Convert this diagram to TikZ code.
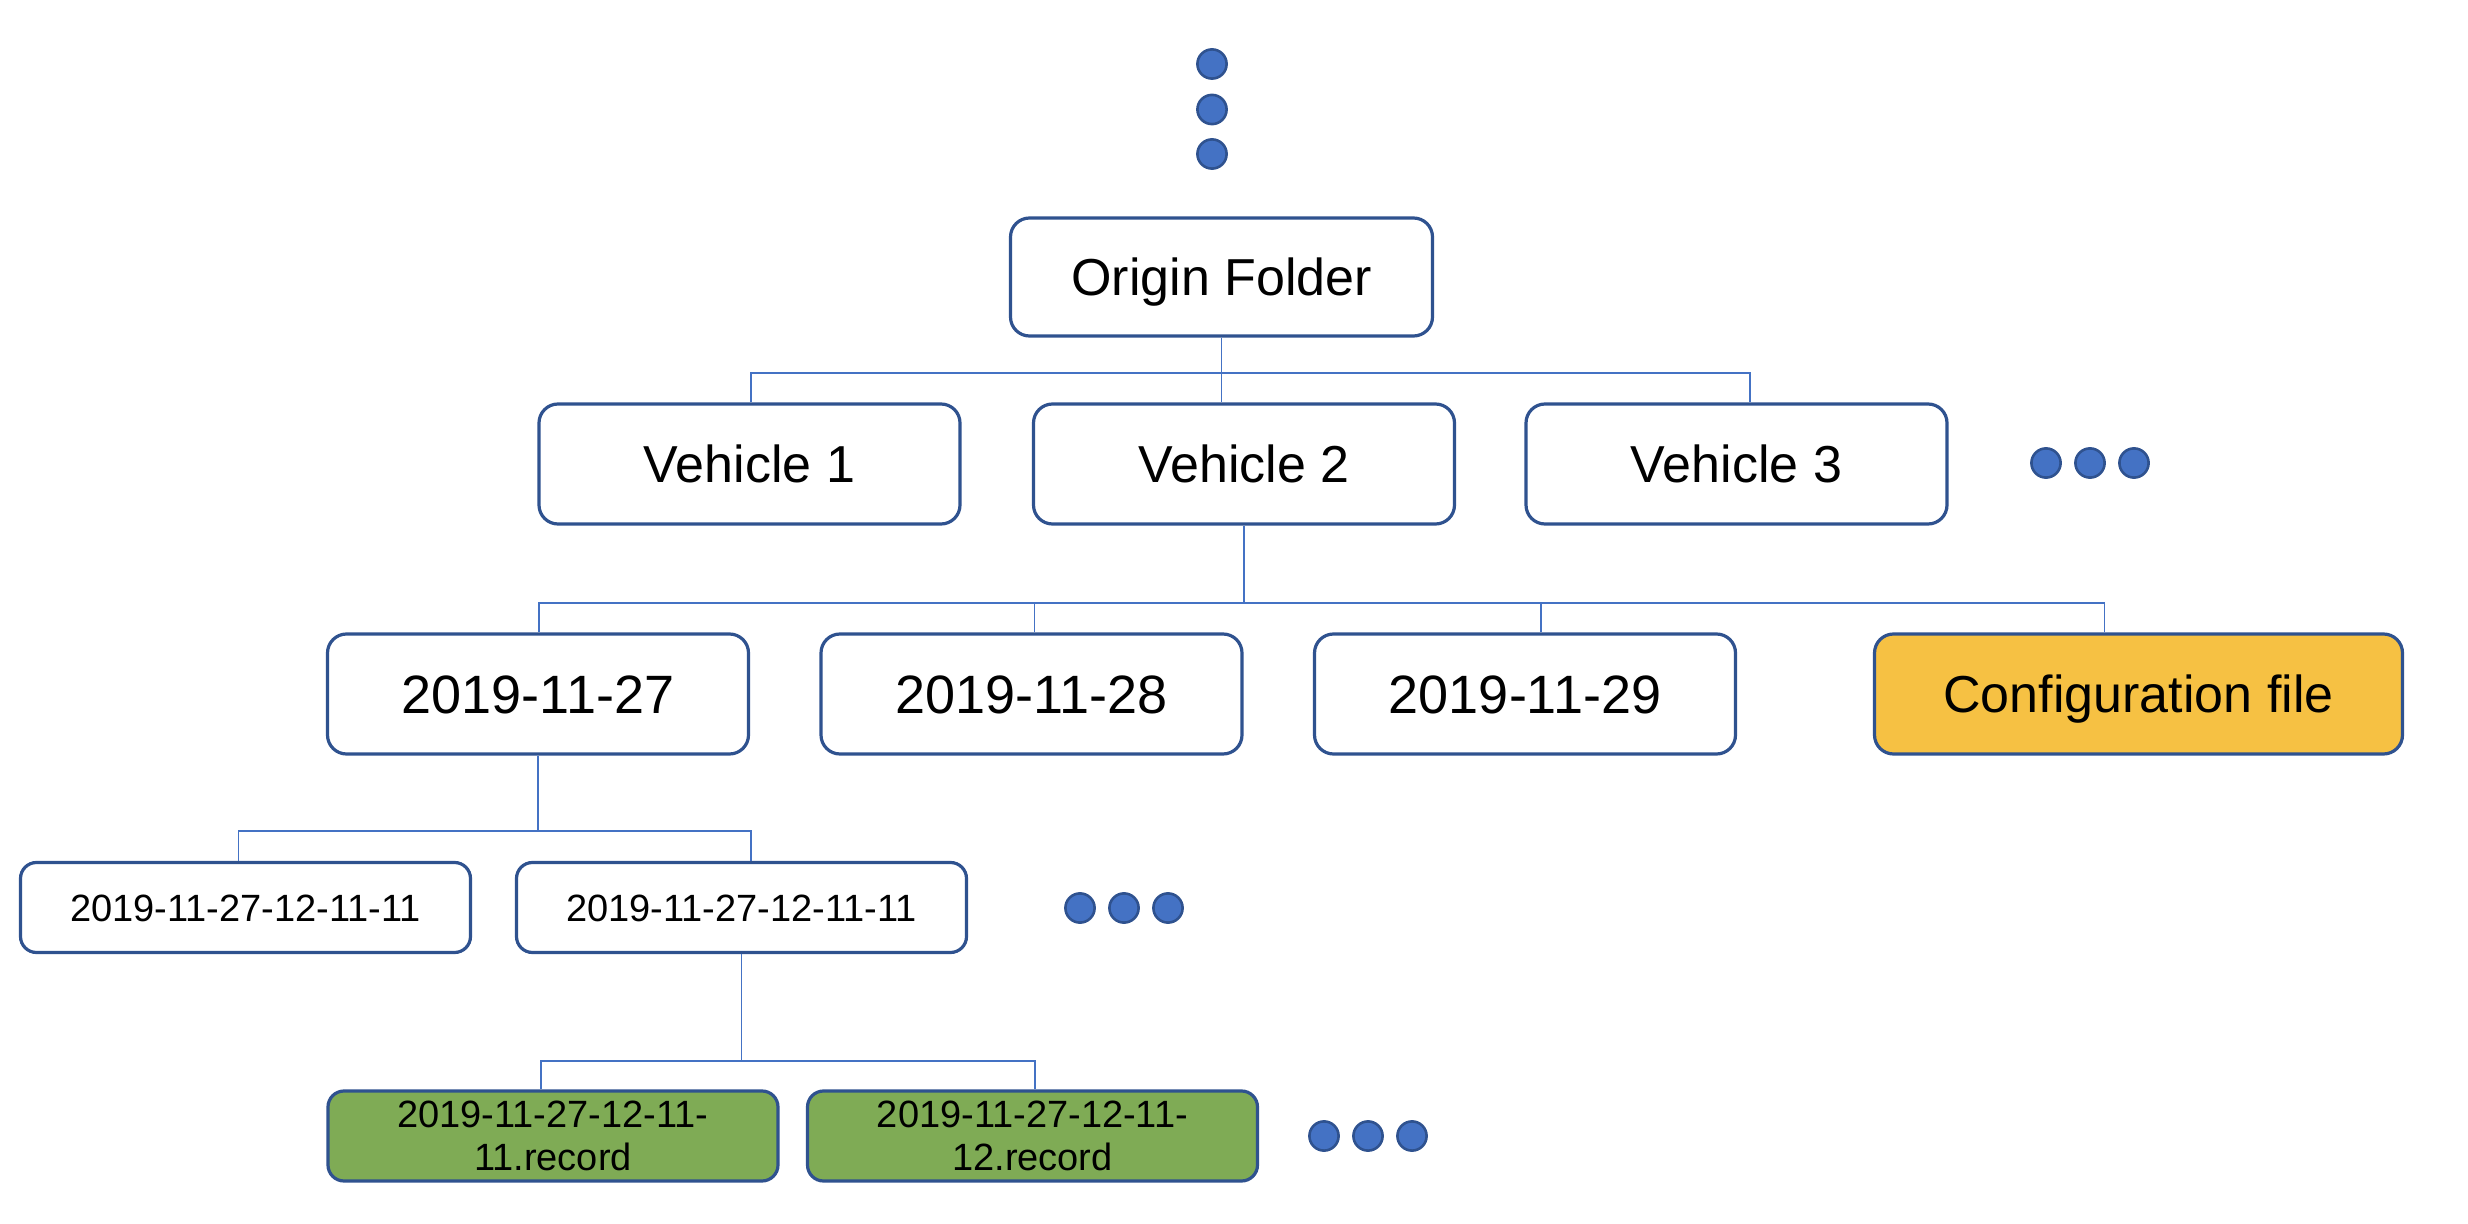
\documentclass[tikz,border=0pt]{standalone}
\usepackage{fontspec}
\setmainfont{Liberation Sans}
\definecolor{bordc}{HTML}{2F528F}
\definecolor{connc}{HTML}{4472C4}
\definecolor{dotc}{HTML}{4472C4}
\definecolor{cfgc}{HTML}{F6C143}
\definecolor{recc}{HTML}{7FAB55}
\begin{document}
\begin{tikzpicture}[x=0.5pt,y=-0.5pt,
  bigbox/.style={draw=bordc, line width=1.6pt, rounded corners=9.5pt, fill=white,
    minimum width=210.5pt, minimum height=60pt, inner sep=0pt,
    text height=18.6pt, text depth=0pt,
    font=\fontsize{26}{30}\selectfont},
  datebox/.style={bigbox, text height=19.3pt, font=\fontsize{27}{31}\selectfont},
  smallbox/.style={draw=bordc, line width=1.6pt, rounded corners=8pt, fill=white,
    minimum width=225pt, minimum height=45pt, inner sep=0pt,
    text height=13.7pt, text depth=0pt,
    font=\fontsize{19}{21.5}\selectfont},
  recbox/.style={smallbox, fill=recc, align=center, text height=, text depth=},
  cfgbox/.style={bigbox, fill=cfgc, minimum width=264pt},
  conn/.style={draw=connc, line width=0.85pt},
  dotnode/.style={circle, draw=bordc, fill=dotc, line width=1.3pt, minimum size=14.6pt, inner sep=0pt}
]
\useasboundingbox (0,0) rectangle (2468,1224);

% dots
\node[dotnode] (t1) at (1212,64) {};
\node[dotnode] (t2) at (1212,109.5) {};
\node[dotnode] (t3) at (1212,154) {};
\node[dotnode] (a1) at (2046,463) {};
\node[dotnode] (a2) at (2090,463) {};
\node[dotnode] (a3) at (2134,463) {};
\node[dotnode] (b1) at (1080,908) {};
\node[dotnode] (b2) at (1124,908) {};
\node[dotnode] (b3) at (1168,908) {};
\node[dotnode] (c1) at (1324,1136) {};
\node[dotnode] (c2) at (1368,1136) {};
\node[dotnode] (c3) at (1412,1136) {};

% boxes
\node[bigbox, minimum width=211pt, minimum height=59pt] (origin) at (1221.5,277) {Origin Folder};
\node[bigbox] (v1) at (749.5,464) {Vehicle 1};
\node[bigbox] (v2) at (1244,464) {Vehicle 2};
\node[bigbox] (v3) at (1736.5,464) {Vehicle 3};

\node[datebox] (d27) at (538,694) {2019-11-27};
\node[datebox] (d28) at (1031.5,694) {2019-11-28};
\node[datebox] (d29) at (1525,694) {2019-11-29};
\node[cfgbox] (cfg) at (2138.5,694) {Configuration file};

\node[smallbox] (s1) at (245.5,907.5) {2019-11-27-12-11-11};
\node[smallbox] (s2) at (741.5,907.5) {2019-11-27-12-11-11};

\node[recbox] (r1) at (553,1136) {2019-11-27-12-11-\\11.record};
\node[recbox] (r2) at (1032.5,1136) {2019-11-27-12-11-\\12.record};

% connectors level 1
\coordinate (j1a) at (751,372.7);
\coordinate (j1b) at (1750,372.7);
\draw[conn] (origin.south) -- (origin.south |- v2.north);
\draw[conn] (j1a |- v1.north) -- (j1a) -- (j1b) -- (j1b |- v3.north);

% connectors level 2
\coordinate (j2a) at (539,602.7);
\coordinate (j2b) at (1034.5,602.7);
\coordinate (j2c) at (1541,602.7);
\coordinate (j2d) at (2104.5,602.7);
\draw[conn] (v2.south) -- (v2.south |- j2a);
\draw[conn] (j2a |- d27.north) -- (j2a) -- (j2d) -- (j2d |- cfg.north);
\draw[conn] (j2b) -- (j2b |- d28.north);
\draw[conn] (j2c) -- (j2c |- d29.north);

% connectors level 3
\coordinate (j3a) at (238.5,831);
\coordinate (j3b) at (751,831);
\draw[conn] (d27.south) -- (d27.south |- j3a);
\draw[conn] (j3a |- s1.north) -- (j3a) -- (j3b) -- (j3b |- s2.north);

% connectors level 4
\coordinate (j4a) at (541,1061);
\coordinate (j4b) at (1034.7,1061);
\draw[conn] (s2.south) -- (s2.south |- j4a);
\draw[conn] (j4a |- r1.north) -- (j4a) -- (j4b) -- (j4b |- r2.north);
\end{tikzpicture}
\end{document}
